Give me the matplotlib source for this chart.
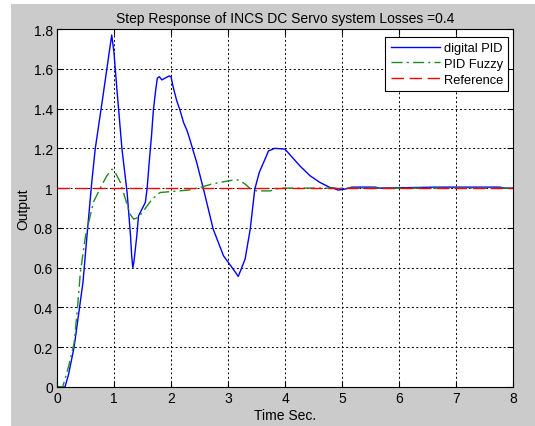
import matplotlib
matplotlib.use("Agg")
import matplotlib.pyplot as plt
from matplotlib.patches import Rectangle

plt.rcParams['font.family'] = ['Liberation Sans', 'DejaVu Sans']

title = "Step Response of INCS DC Servo system Losses =0.4"
xlabel = "Time Sec."
ylabel = "Output"
series_names = ["digital PID", "PID Fuzzy", "Reference"]

t_pid = [0, 0.14, 0.2, 0.3, 0.456, 0.526, 0.61, 0.67, 0.8, 0.9, 0.96, 1.0, 1.05,
         1.14, 1.23, 1.29, 1.31, 1.33, 1.35, 1.40, 1.43, 1.49, 1.55, 1.58, 1.62,
         1.66, 1.69, 1.73, 1.76, 1.795, 1.84, 1.895, 1.97, 2.0, 2.04, 2.1, 2.16,
         2.22, 2.28, 2.33, 2.39, 2.45, 2.57, 2.74, 2.92, 3.09, 3.18, 3.3, 3.39,
         3.47, 3.55, 3.65, 3.71, 3.82, 4.0, 4.26, 4.44, 4.61, 4.79, 4.85, 4.93,
         5.05, 5.12, 5.17, 5.58, 5.65, 6.68, 7.77, 7.85, 8.0]
y_pid = [0, 0, 0.06, 0.2, 0.527, 0.76, 1.03, 1.196, 1.45, 1.65, 1.77, 1.68, 1.5,
         1.196, 0.978, 0.76, 0.66, 0.6, 0.63, 0.76, 0.86, 0.894, 0.928, 0.995, 1.137,
         1.27, 1.39, 1.49, 1.553, 1.56, 1.544, 1.553, 1.564, 1.56, 1.506, 1.44, 1.39,
         1.33, 1.29, 1.246, 1.187, 1.13, 0.995, 0.794, 0.66, 0.593, 0.556, 0.643, 0.794,
         0.995, 1.08, 1.146, 1.187, 1.2, 1.196, 1.112, 1.062, 1.029, 1.003, 1.0, 0.99,
         0.995, 1.0, 1.005, 1.005, 1.0, 1.005, 1.005, 1.0, 1.0]

t_fuzzy = [0, 0.1, 0.2, 0.3, 0.36, 0.41, 0.5, 0.64, 0.76, 0.87, 0.965, 1.02, 1.11,
           1.2, 1.28, 1.345, 1.43, 1.58, 1.67, 1.81, 2.02, 2.3, 2.51, 2.71, 2.92,
           3.12, 3.2, 3.3, 3.39, 3.5, 3.74, 3.9, 8.0]
y_fuzzy = [0, 0, 0.1, 0.22, 0.4, 0.576, 0.76, 0.93, 1.0, 1.06, 1.095, 1.08, 1.03,
           0.945, 0.87, 0.844, 0.853, 0.91, 0.945, 0.978, 0.983, 0.99, 1.003, 1.02,
           1.032, 1.042, 1.04, 1.02, 0.998, 0.986, 0.986, 1.0, 1.0]

t_ref = [0, 8]
y_ref = [1, 1]

xticks = [0, 1, 2, 3, 4, 5, 6, 7, 8]
yticks = [0, 0.2, 0.4, 0.6, 0.8, 1.0, 1.2, 1.4, 1.6, 1.8]
yticklabels = ["0", "0.2", "0.4", "0.6", "0.8", "1", "1.2", "1.4", "1.6", "1.8"]

W, H = 535, 427
fig = plt.figure(figsize=(W / 100, H / 100), dpi=100, facecolor='white')
fig.patches.append(Rectangle((11 / W, 0), 1 - 11 / W, 1 - 5 / H, transform=fig.transFigure,
                             facecolor='#cbcbcb', edgecolor='none', zorder=-10))
ax = fig.add_axes([57 / W, 39 / H, 456 / W, 358 / H])
ax.set_facecolor('white')

ax.plot(t_pid, y_pid, color='#0000ff', lw=1.0, label=series_names[0])
ax.plot(t_fuzzy, y_fuzzy, color='#1e8c1e', lw=1.0, linestyle=(0, (8, 3, 1.5, 3)), label=series_names[1])
ax.plot(t_ref, y_ref, color='#ff0000', lw=1.0, linestyle=(0, (9, 4)), label=series_names[2])

ax.set_xlim(0, 8)
ax.set_ylim(0, 1.8)
ax.set_xticks(xticks)
ax.set_xticklabels([str(v) for v in xticks])
ax.set_yticks(yticks)
ax.set_yticklabels(yticklabels)
ax.tick_params(direction='in', top=True, right=True, labelsize=10, length=4, width=0.8, pad=3)
ax.grid(True, color='black', linestyle=(0, (2, 2.5)), linewidth=0.7)
for s in ax.spines.values():
    s.set_linewidth(0.8)

ax.set_title(title, fontsize=10, pad=5)
ax.set_xlabel(xlabel, fontsize=10, labelpad=2)
ax.set_ylabel(ylabel, fontsize=10, labelpad=2)

leg = ax.legend(loc='upper right', bbox_to_anchor=(0.989, 0.978), borderaxespad=0,
                fancybox=False, edgecolor='black', framealpha=1, fontsize=9.3,
                handlelength=3.8, handletextpad=0.3, labelspacing=0.3, borderpad=0.4)
leg.get_frame().set_linewidth(0.8)

fig.savefig('out.png', dpi=100, facecolor=fig.get_facecolor())
